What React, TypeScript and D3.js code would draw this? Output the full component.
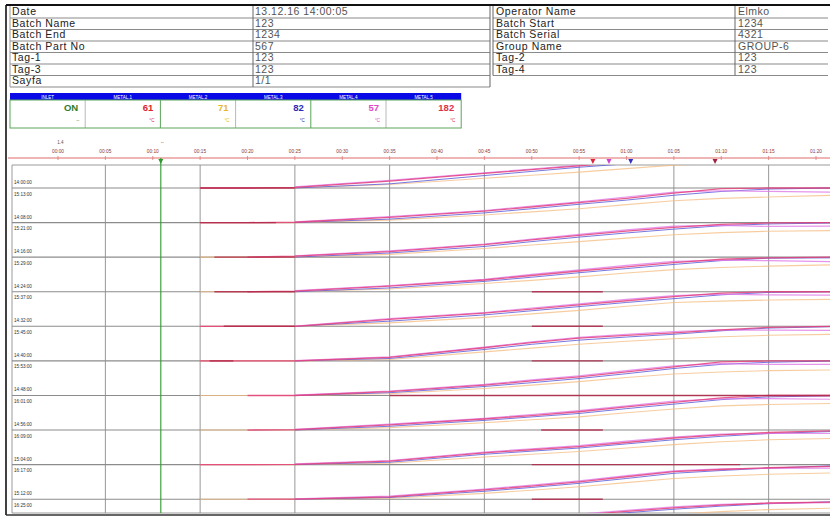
import React from "react";
import * as d3 from "d3";

const W = 830;
const H = 518;
const FONT = "'Liberation Sans', Arial, sans-serif";

// ---------- header table ----------
const leftLabels = ["Date", "Batch Name", "Batch End", "Batch Part No", "Tag-1", "Tag-3", "Sayfa"];
const leftValues = ["13.12.16 14:00:05", "123", "1234", "567", "123", "123", "1/1"];
const rightLabels = ["Operator Name", "Batch Start", "Batch Serial", "Group Name", "Tag-2", "Tag-4"];
const rightValues = ["Elmko", "1234", "4321", "GROUP-6", "123", "123"];

// ---------- channel boxes ----------
const channelNames = ["INLET", "METAL.1", "METAL.2", "METAL.3", "METAL.4", "METAL.5"];
const channelValues = ["ON", "61", "71", "82", "57", "182"];
const channelUnits = ["--", "°C", "°C", "°C", "°C", "°C"];
const channelColors = ["#2f7d2f", "#e0242c", "#e8b828", "#2a2ab8", "#e048c8", "#e0304c"];

// ---------- time axis ----------
const timeTicks = [
  "00:00", "00:05", "00:10", "00:15", "00:20", "00:25", "00:30", "00:35", "00:40",
  "00:45", "00:50", "00:55", "01:00", "01:05", "01:10", "01:15", "01:20",
];
const noteIdx = [0.05, 2.2];
const noteText = ["1.4", "--"];
const markerIdx = [2.17, 11.29, 11.63, 12.09, 13.87];
const markerColors = ["#2e9a2e", "#e0243c", "#d040d0", "#3030c8", "#a02040"];

// ---------- strip labels ----------
const stripTopLabels = ["14:00:00", "14:08:00", "14:16:00", "14:24:00", "14:32:00", "14:40:00", "14:48:00", "14:56:00", "15:04:00", "15:12:00"];
const stripBottomLabels = ["15:13:00", "15:21:00", "15:29:00", "15:37:00", "15:45:00", "15:53:00", "16:01:00", "16:09:00", "16:17:00", "16:25:00"];

// ---------- series (strip units, 0 = strip baseline, 1 = strip top) ----------
const sampleIdx = [3, 4, 5, 7, 9, 10, 11, 12, 13, 14, 15, 16.4];

const redSeries: (number | null)[][] = [
  [0, 0, 0.02, 0.2, 0.42, 0.53, 0.64, 0.76, 0.88, 0.97, 1.0, 1.0],
  [0, 0, 0.01, 0.15, 0.33, 0.45, 0.58, 0.7, 0.85, 0.98, 1.0, 1.0],
  [null, 0, 0.03, 0.16, 0.36, 0.5, 0.63, 0.75, 0.86, 0.95, 0.99, 1.0],
  [null, 0, 0.02, 0.16, 0.34, 0.47, 0.6, 0.72, 0.84, 0.94, 0.98, 1.0],
  [0, 0, 0, 0.2, 0.38, 0.5, 0.62, 0.74, 0.86, 0.96, 1.0, 1.0],
  [0, 0, 0, 0.1, 0.38, 0.53, 0.66, 0.74, 0.81, 0.9, 0.97, 1.0],
  [null, 0, 0, 0.11, 0.3, 0.42, 0.54, 0.68, 0.83, 0.97, 1.0, 1.0],
  [null, 0, 0.01, 0.15, 0.32, 0.42, 0.53, 0.67, 0.8, 0.93, 1.0, 1.0],
  [0, 0, 0.01, 0.1, 0.34, 0.43, 0.52, 0.64, 0.77, 0.86, 0.93, 0.98],
  [null, 0, 0, 0.07, 0.27, 0.38, 0.5, 0.65, 0.8, 0.86, 0.91, 0.95],
  [null, 0, 0, 0.1, 0.3, 0.42, 0.54, 0.65, 0.75, 0.83, 0.89, 0.92],
];
const magentaSeries: (number | null)[][] = [
  [null, null, 0.03, 0.22, 0.44, 0.55, 0.66, 0.8, 0.9, 0.93, 0.9, 0.88],
  [null, null, 0.02, 0.17, 0.35, 0.48, 0.6, 0.74, 0.88, 0.92, 0.9, 0.88],
  [null, null, 0.04, 0.18, 0.38, 0.52, 0.66, 0.79, 0.9, 0.92, 0.89, 0.9],
  [null, null, 0.03, 0.18, 0.36, 0.5, 0.63, 0.76, 0.88, 0.91, 0.9, 0.87],
  [null, null, 0.01, 0.22, 0.4, 0.53, 0.65, 0.78, 0.89, 0.93, 0.91, 0.9],
  [null, null, 0.01, 0.12, 0.4, 0.55, 0.68, 0.77, 0.85, 0.9, 0.89, 0.88],
  [null, null, 0.01, 0.13, 0.32, 0.45, 0.57, 0.72, 0.86, 0.92, 0.9, 0.9],
  [null, null, 0.02, 0.17, 0.34, 0.45, 0.56, 0.7, 0.84, 0.9, 0.91, 0.89],
  [null, null, 0.02, 0.12, 0.36, 0.46, 0.55, 0.68, 0.8, 0.88, 0.9, 0.9],
  [null, null, 0.01, 0.09, 0.29, 0.41, 0.53, 0.68, 0.82, 0.88, 0.89, 0.9],
  [null, null, 0.01, 0.12, 0.32, 0.45, 0.57, 0.68, 0.78, 0.85, 0.88, 0.9],
];
const blueSeries: (number | null)[][] = [
  [null, null, 0, 0.12, 0.36, 0.48, 0.6, 0.7, 0.82, 0.92, 0.97, 0.99],
  [null, null, 0, 0.1, 0.28, 0.4, 0.53, 0.65, 0.79, 0.9, 0.97, 1.0],
  [null, null, 0, 0.12, 0.31, 0.45, 0.58, 0.7, 0.81, 0.91, 0.96, 0.99],
  [null, null, 0, 0.11, 0.3, 0.42, 0.55, 0.67, 0.79, 0.9, 0.97, 0.98],
  [null, null, 0, 0.15, 0.33, 0.45, 0.57, 0.69, 0.8, 0.91, 0.98, 1.0],
  [null, null, 0, 0.07, 0.33, 0.48, 0.6, 0.69, 0.77, 0.87, 0.95, 0.99],
  [null, null, 0, 0.08, 0.26, 0.37, 0.49, 0.63, 0.78, 0.9, 0.96, 1.0],
  [null, null, 0, 0.11, 0.28, 0.38, 0.48, 0.62, 0.75, 0.88, 0.96, 0.99],
  [null, null, 0, 0.07, 0.3, 0.39, 0.48, 0.6, 0.72, 0.82, 0.9, 0.96],
  [null, null, 0, 0.05, 0.23, 0.34, 0.46, 0.6, 0.75, 0.83, 0.9, 0.97],
  [null, null, 0, 0.07, 0.26, 0.38, 0.5, 0.61, 0.71, 0.8, 0.87, 0.93],
];
const orangeSeries: (number | null)[][] = [
  [0, 0, 0, 0.1, 0.28, 0.37, 0.46, 0.56, 0.66, 0.72, 0.75, 0.78],
  [0, 0, 0, 0.07, 0.22, 0.31, 0.4, 0.52, 0.63, 0.7, 0.74, 0.79],
  [0, 0, 0, 0.08, 0.25, 0.35, 0.45, 0.55, 0.65, 0.71, 0.75, 0.77],
  [0, 0, 0, 0.08, 0.24, 0.33, 0.43, 0.54, 0.64, 0.7, 0.74, 0.78],
  [0, 0, 0, 0.1, 0.26, 0.36, 0.46, 0.58, 0.69, 0.73, 0.76, 0.78],
  [0, 0, 0, 0.04, 0.26, 0.37, 0.48, 0.57, 0.64, 0.7, 0.74, 0.77],
  [0, 0, 0, 0.05, 0.2, 0.3, 0.4, 0.52, 0.62, 0.68, 0.72, 0.74],
  [0, 0, 0, 0.07, 0.21, 0.3, 0.38, 0.5, 0.61, 0.7, 0.74, 0.77],
  [0, 0, 0, 0.04, 0.22, 0.3, 0.38, 0.48, 0.58, 0.66, 0.72, 0.76],
  [0, 0, 0, 0.03, 0.17, 0.26, 0.36, 0.48, 0.6, 0.67, 0.72, 0.76],
  [0, 0, 0, 0.05, 0.2, 0.29, 0.38, 0.48, 0.57, 0.64, 0.7, 0.74],
];
// dark red series sitting on the baseline: [from, to] in tick-index units
const baseSegments: number[][][] = [
  [[3, 5]],
  [[3, 4.6]],
  [[3.3, 5]],
  [[3.3, 5], [10, 11.5]],
  [[3.5, 5], [10, 11.5]],
  [[3.2, 3.7], [10, 11.5]],
  [[7, 16.4]],
  [[10.2, 11.5]],
  [[10, 14.4]],
  [[10, 11.5]],
  [],
];

export default function App() {
  const x = d3.scaleLinear().domain([0, 16]).range([58, 816]);
  const yS = d3.scaleLinear().domain([0, 10]).range([188, 533.8]);
  const plot = { left: 12, right: 830, top: 165, bottom: 513 };

  const mkLine = (k: number) =>
    d3
      .line<[number, number | null]>()
      .defined((d) => d[1] !== null)
      .x((d) => x(d[0]))
      .y((d) => yS(k - (d[1] as number)));

  const seriesDefs = [
    { data: orangeSeries, color: "#f4bc80", w: 1.1, op: 0.75 },
    { data: blueSeries, color: "#5656d8", w: 1.0, op: 0.8 },
    { data: magentaSeries, color: "#e07ae8", w: 1.2, op: 0.8 },
    { data: redSeries, color: "#e4407a", w: 1.3, op: 0.85 },
  ];

  // header layout
  const tTop = 5;
  const firstRowH = 13;
  const rowH = 11.5;
  const rowEdges = (n: number) => [tTop, ...d3.range(n).map((i) => tTop + firstRowH + i * rowH)];
  const leftEdges = rowEdges(leftLabels.length);
  const rightEdges = rowEdges(rightLabels.length);
  const L = { x0: 10, x1: 253, x2: 490 };
  const R = { x0: 493, x1: 735, x2: 828 };

  // channel panel
  const cellEdges = d3.range(channelNames.length + 1).map((i) => 10 + i * 75.2);
  const cellW = cellEdges[1] - cellEdges[0];

  const stripLines = d3.range(10);
  const gridIdx = d3.range(1, 16, 2);

  return (
    <svg
      width={W}
      height={H}
      viewBox={`0 0 ${W} ${H}`}
      style={{ position: "absolute", left: 0, top: 0, background: "#fff", fontFamily: FONT }}
    >
      <rect x={0} y={0} width={W} height={H} fill="#fff" />
      <defs>
        <clipPath id="plotClip">
          <rect x={plot.left} y={plot.top} width={plot.right - plot.left} height={plot.bottom - plot.top} />
        </clipPath>
      </defs>

      {/* ---------- header table ---------- */}
      {leftEdges.slice(1).map((y, i) => (
        <line key={`lh${i}`} x1={L.x0} x2={L.x2} y1={y} y2={y} stroke="#8a8a8a" strokeWidth={1.1} />
      ))}
      {rightEdges.slice(1).map((y, i) => (
        <line key={`rh${i}`} x1={R.x0} x2={R.x2} y1={y} y2={y} stroke="#8a8a8a" strokeWidth={1.1} />
      ))}
      <line x1={L.x0} x2={L.x0} y1={tTop} y2={leftEdges[leftEdges.length - 1]} stroke="#999" />
      <line x1={L.x1} x2={L.x1} y1={tTop} y2={leftEdges[leftEdges.length - 1]} stroke="#666" />
      <line x1={L.x2} x2={L.x2} y1={tTop} y2={leftEdges[leftEdges.length - 1]} stroke="#666" />
      <line x1={R.x0} x2={R.x0} y1={tTop} y2={rightEdges[rightEdges.length - 1]} stroke="#666" />
      <line x1={R.x1} x2={R.x1} y1={tTop} y2={rightEdges[rightEdges.length - 1]} stroke="#666" />
      {leftLabels.map((t, i) => (
        <g key={`lt${i}`}>
          <text x={12} y={leftEdges[i + 1] - 2.6} fontSize={10.5} letterSpacing={0.6} fill="#222">{t}</text>
          <text x={255} y={leftEdges[i + 1] - 2.6} fontSize={10.5} letterSpacing={0.5} fill="#555">{leftValues[i]}</text>
        </g>
      ))}
      {rightLabels.map((t, i) => (
        <g key={`rt${i}`}>
          <text x={496} y={rightEdges[i + 1] - 2.6} fontSize={10.5} letterSpacing={0.6} fill="#222">{t}</text>
          <text x={738} y={rightEdges[i + 1] - 2.6} fontSize={10.5} letterSpacing={0.5} fill="#555">{rightValues[i]}</text>
        </g>
      ))}

      {/* ---------- channel panel ---------- */}
      <rect x={cellEdges[0]} y={93} width={cellEdges[cellEdges.length - 1] - cellEdges[0]} height={7} fill="#0a0ae6" />
      {channelNames.map((n, i) => (
        <g key={`ch${i}`}>
          <text x={cellEdges[i] + cellW / 2} y={98.6} fontSize={4.5} fill="#fff" textAnchor="middle">{n}</text>
          <text x={cellEdges[i + 1] - 7} y={111} fontSize={9.5} fontWeight="bold" fill={channelColors[i]} textAnchor="end">
            {channelValues[i]}
          </text>
          <text x={cellEdges[i + 1] - 6} y={122} fontSize={4.5} fill={channelColors[i]} textAnchor="end">{channelUnits[i]}</text>
        </g>
      ))}
      {cellEdges.slice(1, -1).map((cx, i) => (
        <line key={`cd${i}`} x1={cx} x2={cx} y1={100} y2={128} stroke={i % 2 === 1 ? "#5aa55a" : "#b8b8b8"} strokeWidth={1} />
      ))}
      <rect x={cellEdges[0]} y={100} width={cellEdges[cellEdges.length - 1] - cellEdges[0]} height={28} fill="none" stroke="#5aa55a" strokeWidth={1} />

      {/* ---------- time axis ---------- */}
      <line x1={8} x2={W} y1={158} y2={158} stroke="#e06a6a" strokeWidth={1.2} />
      {timeTicks.map((t, i) => (
        <g key={`tk${i}`}>
          <text x={x(i)} y={153} fontSize={4.8} fill="#8a3838" textAnchor="middle">{t}</text>
          <line x1={x(i)} x2={x(i)} y1={156} y2={160} stroke="#e07a7a" strokeWidth={0.8} />
        </g>
      ))}
      {noteIdx.map((v, i) => (
        <text key={`nt${i}`} x={x(v)} y={144} fontSize={4.5} fill="#555" textAnchor="middle">{noteText[i]}</text>
      ))}

      {/* ---------- plot frame & grid ---------- */}
      <line x1={plot.left} x2={plot.right} y1={plot.top} y2={plot.top} stroke="#9a9a9a" strokeWidth={1} />
      <line x1={plot.left} x2={plot.left} y1={plot.top} y2={plot.bottom} stroke="#9a9a9a" strokeWidth={1} />
      <line x1={plot.left} x2={plot.right} y1={plot.bottom} y2={plot.bottom} stroke="#9a9a9a" strokeWidth={1} />
      {gridIdx.map((g) => (
        <line key={`vg${g}`} x1={x(g)} x2={x(g)} y1={plot.top} y2={plot.bottom} stroke="#8c8c8c" strokeWidth={0.9} />
      ))}
      {stripLines.map((k) => (
        <line key={`hg${k}`} x1={plot.left} x2={plot.right} y1={yS(k)} y2={yS(k)} stroke="#8c8c8c" strokeWidth={1.1} />
      ))}
      {stripLines.map((k) => (
        <g key={`sl${k}`}>
          <text x={14} y={yS(k) - 4} fontSize={4.6} fill="#333">{stripTopLabels[k]}</text>
          <text x={14} y={yS(k) + 7.5} fontSize={4.6} fill="#333">{stripBottomLabels[k]}</text>
        </g>
      ))}

      {/* ---------- series ---------- */}
      <g clipPath="url(#plotClip)">
        {seriesDefs.map((s, si) =>
          s.data.map((vals, k) => {
            const pts = sampleIdx.map((xi, j) => [xi, vals[j]] as [number, number | null]);
            return (
              <path
                key={`s${si}-${k}`}
                d={mkLine(k)(pts) || ""}
                fill="none"
                stroke={s.color}
                strokeWidth={s.w}
                strokeOpacity={s.op}
              />
            );
          })
        )}
        {baseSegments.map((segs, k) =>
          segs.map((sg, j) => (
            <path
              key={`b${k}-${j}`}
              d={mkLine(k)([[sg[0], 0], [sg[1], 0]]) || ""}
              fill="none"
              stroke="#b0284a"
              strokeWidth={1.4}
              strokeOpacity={0.85}
            />
          ))
        )}
      </g>

      {/* green marker line */}
      <line x1={x(markerIdx[0])} x2={x(markerIdx[0])} y1={158} y2={plot.bottom} stroke="#2e9a2e" strokeWidth={1.1} />
      {markerIdx.map((m, i) => {
        const mx = x(m);
        return (
          <g key={`mk${i}`}>
            <path d={`M${mx - 2.5},159 L${mx + 2.5},159 L${mx},164 Z`} fill={markerColors[i]} />
          </g>
        );
      })}

      {/* page frame */}
      <line x1={6} x2={W} y1={5} y2={5} stroke="#111" strokeWidth={1.8} />
      <line x1={6} x2={6} y1={5} y2={515} stroke="#111" strokeWidth={1.6} />
      <line x1={6} x2={W} y1={515} y2={515} stroke="#333" strokeWidth={1.4} />
    </svg>
  );
}
